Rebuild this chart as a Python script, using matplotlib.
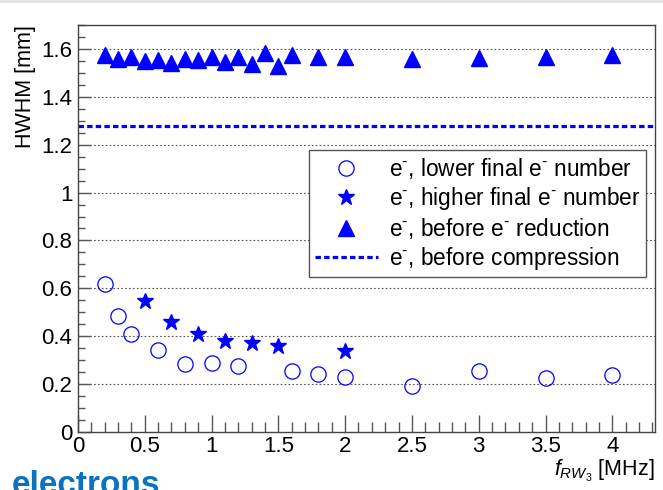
import matplotlib
matplotlib.use('Agg')
import matplotlib.pyplot as plt
from matplotlib.lines import Line2D
from matplotlib.ticker import MultipleLocator

plt.rcParams['font.family'] = ['Liberation Sans', 'DejaVu Sans']
plt.rcParams['mathtext.fontset'] = 'custom'
plt.rcParams['mathtext.rm'] = 'Liberation Sans'
plt.rcParams['mathtext.it'] = 'Liberation Sans:italic'

# before e- reduction (triangles)
f_before = [0.2, 0.3, 0.4, 0.5, 0.6, 0.7, 0.8, 0.9, 1.0, 1.1, 1.2, 1.3, 1.4, 1.5, 1.6,
            1.8, 2.0, 2.5, 3.0, 3.5, 4.0]
hwhm_before = [1.573, 1.556, 1.565, 1.548, 1.555, 1.541, 1.557, 1.555, 1.566, 1.546,
               1.565, 1.538, 1.581, 1.528, 1.575, 1.565, 1.568, 1.556, 1.562, 1.565, 1.573]

# lower final e- number (open circles)
f_lower = [0.2, 0.3, 0.4, 0.6, 0.8, 1.0, 1.2, 1.6, 1.8, 2.0, 2.5, 3.0, 3.5, 4.0]
hwhm_lower = [0.618, 0.483, 0.408, 0.341, 0.285, 0.290, 0.276, 0.255, 0.241, 0.230,
              0.192, 0.255, 0.224, 0.237]

# higher final e- number (stars)
f_higher = [0.5, 0.7, 0.9, 1.1, 1.3, 1.5, 2.0]
hwhm_higher = [0.548, 0.458, 0.408, 0.380, 0.372, 0.360, 0.338]

# before compression
hwhm_compression = 1.28

blue = '#0000ff'

fig = plt.figure(figsize=(6.63, 4.90), dpi=100)
ax = fig.add_axes([0.1176, 0.1184, 0.988 - 0.1176, 0.949 - 0.1184])

# grey strip at the very top of the screenshot
fig.patches.append(plt.Rectangle((0, 1 - 3 / 490), 1, 3 / 490, transform=fig.transFigure,
                                 facecolor='#e4e4e4', edgecolor='none'))

ax.set_xlim(0, 4.32)
ax.set_ylim(0, 1.7)

for y in [0.2, 0.4, 0.6, 0.8, 1.0, 1.2, 1.4, 1.6]:
    ax.axhline(y, color='#555555', lw=0.8, linestyle=(0, (1.5, 2.0)), zorder=1)

ax.axhline(hwhm_compression, color=blue, lw=2.3, dashes=(1.7, 1.0), zorder=2)

ax.plot(f_before, hwhm_before, linestyle='none', marker='^', ms=12, color=blue, zorder=3)
ax.plot(f_lower, hwhm_lower, linestyle='none', marker='o', ms=11, mfc='none', mec=blue,
        mew=0.9, zorder=3)
ax.plot(f_higher, hwhm_higher, linestyle='none', marker='*', ms=12, color=blue, zorder=3)

ax.xaxis.set_major_locator(MultipleLocator(0.5))
ax.xaxis.set_minor_locator(MultipleLocator(0.1))
ax.yaxis.set_major_locator(MultipleLocator(0.2))
ax.yaxis.set_minor_locator(MultipleLocator(0.05))
ax.set_xticks([0, 0.5, 1, 1.5, 2, 2.5, 3, 3.5, 4])
ax.set_xticklabels(['0', '0.5', '1', '1.5', '2', '2.5', '3', '3.5', '4'])
ax.set_yticks([0, 0.2, 0.4, 0.6, 0.8, 1.0, 1.2, 1.4, 1.6])
ax.set_yticklabels(['0', '0.2', '0.4', '0.6', '0.8', '1', '1.2', '1.4', '1.6'])

ax.tick_params(which='both', direction='in', top=False, right=False, color='#555555',
               labelsize=16)
ax.tick_params(axis='x', which='major', length=12, width=1, pad=3)
ax.tick_params(axis='x', which='minor', length=7, width=1)
ax.tick_params(axis='y', which='major', length=9, width=1, pad=4)
ax.tick_params(axis='y', which='minor', length=5, width=1)
for sp in ax.spines.values():
    sp.set_color('#444444')
    sp.set_linewidth(1.0)

ax.set_ylabel('HWHM [mm]', fontsize=15.5, loc='top', labelpad=4)
fig.text(0.988, 1 - 476 / 490, r'$f_{RW_{3}}$ [MHz]', ha='right', va='baseline',
         fontsize=15.5)

handles = [
    Line2D([], [], linestyle='none', marker='o', ms=11, mfc='none', mec=blue, mew=0.9),
    Line2D([], [], linestyle='none', marker='*', ms=12, color=blue),
    Line2D([], [], linestyle='none', marker='^', ms=12, color=blue),
    Line2D([], [], color=blue, lw=2.3, dashes=(1.7, 1.0)),
]
labels = [
    r'e$^{\text{-}}$, lower final e$^{\text{-}}$ number',
    r'e$^{\text{-}}$, higher final e$^{\text{-}}$ number',
    r'e$^{\text{-}}$, before e$^{\text{-}}$ reduction',
    r'e$^{\text{-}}$, before compression',
]
leg = ax.legend(handles, labels, loc='upper left', bbox_to_anchor=(0.466, 0.694),
                bbox_transform=fig.transFigure, fontsize=16.25, frameon=True, fancybox=False,
                framealpha=1, edgecolor='#555555', handlelength=2.8, handletextpad=0.5,
                borderpad=0.25, labelspacing=0.18, borderaxespad=0)
leg.get_frame().set_linewidth(1.0)

fig.text(12 / 663, -4 / 490, 'electrons', color='#0a72c0', fontsize=24, fontweight='bold',
         ha='left', va='baseline')

fig.savefig('out.png', dpi=100)
